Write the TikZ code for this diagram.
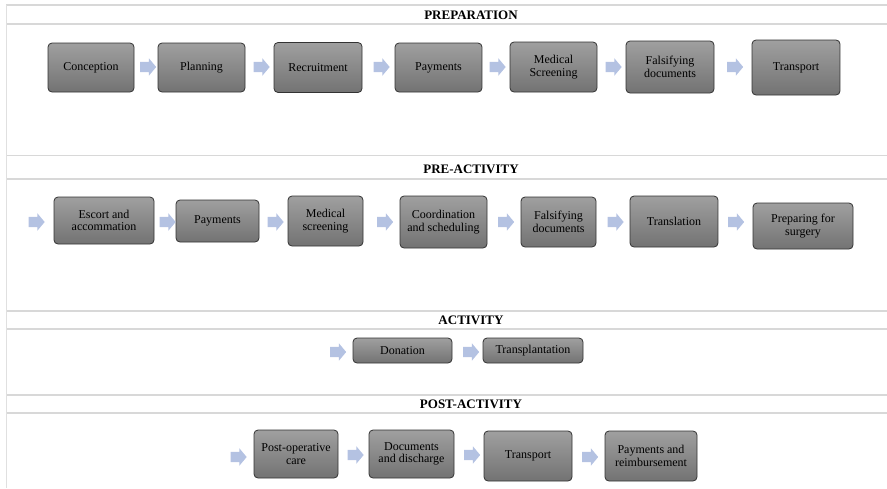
\documentclass[tikz,border=0pt]{standalone}
\usepackage{fontspec}
\setmainfont{Liberation Serif}
\usepackage{tikz}
\usetikzlibrary{shapes.arrows}
\definecolor{arrowblue}{RGB}{180,194,226}
\definecolor{rulegray}{RGB}{216,216,216}

\begin{document}
\begin{tikzpicture}[
            x=1pt,y=-1pt,
            stepbox/.style={draw=black!80,line width=0.8pt,rounded corners=4pt,
                top color=gray!75,bottom color=black!55,align=center,inner sep=2pt,
                font=\fontsize{12}{12.5}\selectfont},
            flowArrow/.style={single arrow,fill=arrowblue,draw=none,inner xsep=0pt,
                inner ysep=5pt,minimum height=16pt,single arrow head extend=3.5pt,
                single arrow tip angle=100},
            phaseline/.style={draw=rulegray,line width=1.3pt},
            phasetitle/.style={font=\fontsize{13}{13}\selectfont\bfseries},
        ]
            \useasboundingbox (0,0) rectangle (887,488);

            %--- Table rules ---%
            \foreach \yy in {5,24,155.5,179,311,329,395,413}
                \draw[phaseline] (6,\yy) -- (887,\yy);
            \draw[draw=rulegray!80,line width=1pt] (6.3,5) -- (6.3,488);

            %--- Phase titles ---%
            \node[phasetitle] (t1) at (471,15) {PREPARATION};
            \node[phasetitle] (t2) at (471,169) {PRE-ACTIVITY};
            \node[phasetitle] (t3) at (471,320) {ACTIVITY};
            \node[phasetitle] (t4) at (471,404) {POST-ACTIVITY};

            %--- Preparation ---%
            \node[stepbox,minimum width=86pt,minimum height=49pt] (p1) at (91,67.5) {Conception};
            \node[stepbox,minimum width=87pt,minimum height=49pt] (p2) at (201.5,67.5) {Planning};
            \node[stepbox,minimum width=88pt,minimum height=50pt] (p3) at (318,67.5) {Recruitment};
            \node[stepbox,minimum width=87pt,minimum height=49pt] (p4) at (438.5,67.5) {Payments};
            \node[stepbox,minimum width=87pt,minimum height=50pt] (p5) at (553.5,67) {Medical\\Screening};
            \node[stepbox,minimum width=88pt,minimum height=52pt] (p6) at (670,67) {Falsifying\\documents};
            \node[stepbox,minimum width=88pt,minimum height=55pt] (p7) at (796,67.5) {Transport};
            \node[flowArrow] (pa1) at (146,67) {};
            \node[flowArrow] (pa2) at (259.5,67) {};
            \node[flowArrow] (pa3) at (379.5,67) {};
            \node[flowArrow] (pa4) at (495.5,67) {};
            \node[flowArrow] (pa5) at (611.5,67) {};
            \node[flowArrow] (pa6) at (733,67) {};

            %--- Pre-activity ---%
            \node[stepbox,minimum width=100pt,minimum height=47pt] (q1) at (104,220.5) {Escort and\\accommation};
            \node[stepbox,minimum width=83pt,minimum height=42pt] (q2) at (217.5,221) {Payments};
            \node[stepbox,minimum width=75pt,minimum height=50pt] (q3) at (325.5,221) {Medical\\screening};
            \node[stepbox,minimum width=87pt,minimum height=52pt] (q4) at (443.5,222) {Coordination\\and scheduling};
            \node[stepbox,minimum width=75pt,minimum height=50pt] (q5) at (558.5,222) {Falsifying\\documents};
            \node[stepbox,minimum width=88pt,minimum height=51pt] (q6) at (674,221.5) {Translation};
            \node[stepbox,minimum width=100pt,minimum height=46pt] (q7) at (803,226) {Preparing for\\surgery};
            \node[flowArrow] (qa0) at (34.5,222) {};
            \node[flowArrow] (qa1) at (165.5,222) {};
            \node[flowArrow] (qa2) at (273.5,222) {};
            \node[flowArrow] (qa3) at (383,222) {};
            \node[flowArrow] (qa4) at (504,222) {};
            \node[flowArrow] (qa5) at (613.5,222) {};
            \node[flowArrow] (qa6) at (734,222) {};

            %--- Activity ---%
            \node[stepbox,minimum width=99pt,minimum height=25pt] (r1) at (402.5,350.5) {Donation};
            \node[stepbox,minimum width=100pt,minimum height=25pt] (r2) at (533,350.5) {Transplantation};
            \node[flowArrow] (ra0) at (336,352) {};
            \node[flowArrow] (ra1) at (469,352) {};

            %--- Post-activity ---%
            \node[stepbox,minimum width=84pt,minimum height=48pt] (s1) at (296,454) {Post-operative\\care};
            \node[stepbox,minimum width=85pt,minimum height=48pt] (s2) at (411.5,454) {Documents\\and discharge};
            \node[stepbox,minimum width=88pt,minimum height=50pt] (s3) at (528,456) {Transport};
            \node[stepbox,minimum width=92pt,minimum height=50pt] (s4) at (651,456) {Payments and\\reimbursement};
            \node[flowArrow] (sa0) at (236.5,457) {};
            \node[flowArrow] (sa1) at (353.5,455) {};
            \node[flowArrow] (sa2) at (470,455) {};
            \node[flowArrow] (sa3) at (588,457) {};

        \end{tikzpicture}
\end{document}
